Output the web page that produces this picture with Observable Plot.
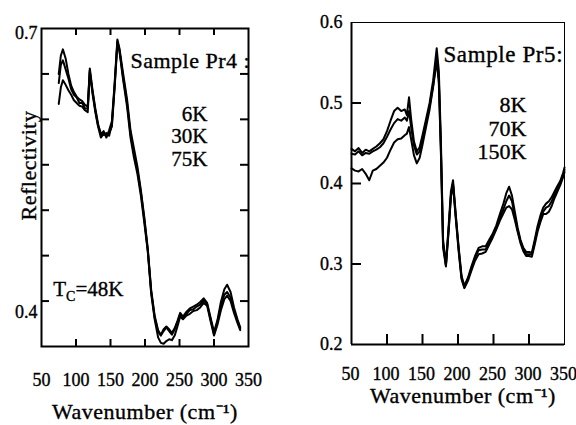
<!DOCTYPE html>
<html><head><meta charset="utf-8">
<script src="https://cdn.jsdelivr.net/npm/d3@7"></script>
<script src="https://cdn.jsdelivr.net/npm/@observablehq/plot@0.6"></script>
<style>
body{margin:0;background:#fff;}
#wrap{position:relative;width:576px;height:425px;overflow:hidden;}
#wrap svg{position:absolute;top:0;}
#wrap text{stroke:#000;stroke-width:0.35px;}
#wrap .big text{letter-spacing:0.5px;}
#wrap .big2 text{letter-spacing:0.6px;}
</style></head><body><div id="wrap"></div>
<script>
// ---------- data ----------
const xTickLabels = [50, 100, 150, 200, 250, 300, 350];
const xInnerTicks = [100, 150, 200, 250, 300];

const pr4YTickLabels = [0.7, 0.4];
const pr4YInnerTicks = [0.4, 0.45, 0.5, 0.55, 0.6, 0.65];
const pr5YTickLabels = [0.6, 0.5, 0.4, 0.3, 0.2];
const pr5YInnerTicks = [0.3, 0.4, 0.5];

const pr4Temps = ["6K", "30K", "75K"];
const pr5Temps = ["8K", "70K", "150K"];

const pr4Wavenumber = [75, 78, 81, 85, 89, 93, 97, 101, 105, 109, 113, 117, 120, 124, 128, 132, 136, 140, 144, 148, 152, 156, 160, 163, 168, 174, 179, 184, 189, 194, 199, 204, 209, 214, 219, 223, 227, 231, 235, 239, 243, 247, 251, 255, 260, 265, 270, 275, 280, 285, 290, 295, 300, 305, 310, 315, 319, 324, 329, 334, 338];
const pr4R6K = [0.650, 0.670, 0.677, 0.667, 0.650, 0.637, 0.630, 0.625, 0.622, 0.620, 0.616, 0.614, 0.656, 0.632, 0.612, 0.595, 0.583, 0.587, 0.580, 0.588, 0.598, 0.640, 0.688, 0.678, 0.652, 0.622, 0.588, 0.568, 0.548, 0.522, 0.492, 0.458, 0.412, 0.384, 0.368, 0.363, 0.369, 0.372, 0.369, 0.365, 0.370, 0.378, 0.387, 0.383, 0.388, 0.392, 0.394, 0.396, 0.399, 0.403, 0.398, 0.382, 0.366, 0.379, 0.399, 0.413, 0.418, 0.410, 0.393, 0.380, 0.371];
const pr4R30K = [0.640, 0.660, 0.665, 0.655, 0.645, 0.633, 0.627, 0.624, 0.618, 0.618, 0.612, 0.612, 0.654, 0.630, 0.610, 0.593, 0.585, 0.583, 0.585, 0.582, 0.595, 0.637, 0.686, 0.676, 0.648, 0.618, 0.584, 0.562, 0.544, 0.520, 0.490, 0.456, 0.410, 0.382, 0.366, 0.362, 0.367, 0.371, 0.367, 0.363, 0.369, 0.377, 0.386, 0.382, 0.386, 0.390, 0.391, 0.394, 0.396, 0.401, 0.397, 0.380, 0.364, 0.377, 0.395, 0.407, 0.410, 0.404, 0.390, 0.378, 0.370];
const pr4R75K = [0.617, 0.635, 0.643, 0.638, 0.632, 0.627, 0.621, 0.618, 0.615, 0.614, 0.610, 0.608, 0.652, 0.628, 0.608, 0.592, 0.580, 0.584, 0.582, 0.585, 0.592, 0.635, 0.684, 0.675, 0.645, 0.614, 0.580, 0.558, 0.540, 0.516, 0.486, 0.455, 0.408, 0.380, 0.360, 0.354, 0.353, 0.356, 0.358, 0.357, 0.362, 0.372, 0.383, 0.380, 0.384, 0.386, 0.389, 0.390, 0.393, 0.398, 0.395, 0.378, 0.362, 0.374, 0.390, 0.402, 0.406, 0.400, 0.387, 0.376, 0.368];

const pr5Wavenumber = [50, 55, 60, 65, 70, 75, 80, 85, 90, 95, 100, 105, 110, 115, 120, 125, 128, 131, 134, 138, 142, 146, 150, 155, 160, 165, 170, 173, 176, 179, 183, 187, 190, 193, 197, 201, 205, 209, 214, 219, 224, 229, 234, 239, 244, 249, 254, 259, 264, 268, 272, 276, 280, 284, 288, 292, 296, 300, 304, 308, 312, 316, 320, 324, 328, 332, 336, 340, 344, 348, 350];
const pr5R8K = [0.443, 0.440, 0.444, 0.438, 0.442, 0.440, 0.443, 0.446, 0.450, 0.455, 0.465, 0.478, 0.490, 0.494, 0.490, 0.492, 0.485, 0.507, 0.480, 0.452, 0.440, 0.445, 0.460, 0.480, 0.500, 0.528, 0.568, 0.540, 0.450, 0.330, 0.300, 0.350, 0.390, 0.404, 0.360, 0.320, 0.285, 0.273, 0.283, 0.297, 0.310, 0.320, 0.322, 0.322, 0.330, 0.338, 0.348, 0.362, 0.375, 0.388, 0.396, 0.385, 0.365, 0.345, 0.330, 0.320, 0.315, 0.315, 0.314, 0.330, 0.347, 0.360, 0.370, 0.375, 0.378, 0.383, 0.390, 0.397, 0.403, 0.413, 0.420];
const pr5R70K = [0.437, 0.436, 0.440, 0.435, 0.438, 0.437, 0.440, 0.442, 0.445, 0.450, 0.458, 0.467, 0.475, 0.480, 0.478, 0.482, 0.478, 0.490, 0.470, 0.447, 0.436, 0.440, 0.455, 0.476, 0.496, 0.522, 0.556, 0.530, 0.440, 0.325, 0.298, 0.345, 0.385, 0.400, 0.358, 0.318, 0.283, 0.271, 0.281, 0.295, 0.308, 0.317, 0.318, 0.318, 0.327, 0.336, 0.346, 0.358, 0.368, 0.378, 0.385, 0.378, 0.360, 0.342, 0.328, 0.318, 0.312, 0.312, 0.312, 0.327, 0.343, 0.355, 0.365, 0.370, 0.372, 0.378, 0.386, 0.393, 0.400, 0.410, 0.417];
const pr5R150K = [0.419, 0.416, 0.415, 0.418, 0.412, 0.404, 0.416, 0.418, 0.422, 0.426, 0.432, 0.442, 0.451, 0.455, 0.456, 0.460, 0.462, 0.470, 0.455, 0.435, 0.425, 0.432, 0.448, 0.470, 0.492, 0.520, 0.552, 0.525, 0.435, 0.320, 0.297, 0.343, 0.383, 0.398, 0.355, 0.315, 0.281, 0.270, 0.279, 0.292, 0.304, 0.312, 0.313, 0.315, 0.324, 0.333, 0.343, 0.354, 0.363, 0.370, 0.372, 0.368, 0.355, 0.340, 0.326, 0.316, 0.310, 0.310, 0.309, 0.324, 0.340, 0.352, 0.362, 0.362, 0.365, 0.372, 0.382, 0.390, 0.398, 0.408, 0.414];

// ---------- build ----------
function rows(xs, ys, name) { return xs.map((x, i) => ({x, y: ys[i], name})); }
const pr4Data = [
  ...rows(pr4Wavenumber, pr4R6K, pr4Temps[0]),
  ...rows(pr4Wavenumber, pr4R30K, pr4Temps[1]),
  ...rows(pr4Wavenumber, pr4R75K, pr4Temps[2])
];
const pr5Data = [
  ...rows(pr5Wavenumber, pr5R8K, pr5Temps[0]),
  ...rows(pr5Wavenumber, pr5R70K, pr5Temps[1]),
  ...rows(pr5Wavenumber, pr5R150K, pr5Temps[2])
];

const FONT = "'Liberation Serif', 'Times New Roman', serif";
const wrap = document.getElementById("wrap");

// Left panel: Sample Pr4
{
  const W = 290, H = 425, mL = 41, mR = 42, mT = 28, mB = 79;
  const fw = W - mL - mR, fh = H - mT - mB;
  const svg = Plot.plot({
    width: W, height: H, marginLeft: mL, marginRight: mR, marginTop: mT, marginBottom: mB,
    x: {domain: [50, 350], axis: null},
    y: {domain: [0.35, 0.7], axis: null},
    style: {fontFamily: FONT, fontSize: "18px", background: "transparent", color: "#000", overflow: "visible"},
    marks: [
      Plot.line(pr4Data, {x: "x", y: "y", z: "name", stroke: "#000", strokeWidth: 2, strokeLinejoin: "round"}),
      Plot.frame({stroke: "#000", strokeWidth: 2}),
      Plot.tickX(xInnerTicks, {x: d => d, insetTop: fh - 7, stroke: "#000", strokeWidth: 2}),
      Plot.tickX(xInnerTicks, {x: d => d, insetBottom: fh - 7, stroke: "#000", strokeWidth: 2}),
      Plot.tickY(pr4YInnerTicks, {y: d => d, insetRight: fw - 8, stroke: "#000", strokeWidth: 2}),
      Plot.tickY(pr4YInnerTicks, {y: d => d, insetLeft: fw - 8, stroke: "#000", strokeWidth: 2}),
      Plot.text(xTickLabels, {x: d => d, text: d => String(d), frameAnchor: "bottom", dy: 34, lineAnchor: "middle", textAnchor: "middle", fontSize: 18}),
      Plot.text(pr4YTickLabels.slice(0, 1), {y: d => d, text: d => d.toFixed(1), frameAnchor: "left", dx: -4, dy: 5, textAnchor: "end", lineAnchor: "middle", fontSize: 18}),
      Plot.text(pr4YTickLabels.slice(1), {y: d => d, text: d => d.toFixed(1), frameAnchor: "left", dx: -4, dy: 11, textAnchor: "end", lineAnchor: "middle", fontSize: 18}),
      Plot.text(["Wavenumber (cm\u207B\u00B9)"], {text: d => d, frameAnchor: "bottom", dy: 65, textAnchor: "middle", lineAnchor: "middle", fontSize: 22, className: "big"}),
      Plot.text(["Reflectivity"], {text: d => d, frameAnchor: "left", rotate: -90, dx: -13, dy: -22, textAnchor: "middle", lineAnchor: "middle", fontSize: 22, className: "big"}),
      Plot.text(["Sample Pr4 :"], {text: d => d, x: 179, y: 0.657, textAnchor: "start", lineAnchor: "bottom", fontSize: 22, className: "big"}),
      Plot.text(pr4Temps, {text: d => d, x: 290.5, y: (d, i) => 0.598 - i * 0.0245, textAnchor: "end", lineAnchor: "bottom", fontSize: 21}),
      Plot.text(["TC=48K"], {text: d => d, x: 67, y: 0.406, textAnchor: "start", lineAnchor: "bottom", fontSize: 21})
    ]
  });
  svg.style.left = "0px";
  d3.select(svg).selectAll("text").each(function () {
    if (this.textContent === "TC=48K") {
      const t = d3.select(this);
      t.text(null);
      t.append("tspan").text("T");
      t.append("tspan").attr("dy", 5).attr("font-size", 14).text("C");
      t.append("tspan").attr("dy", -5).text("=48K");
    }
  });
  wrap.appendChild(svg);
}

// Right panel: Sample Pr5
{
  const W = 286, H = 425, mL = 61, mR = 12, mT = 22, mB = 81;
  const fw = W - mL - mR, fh = H - mT - mB;
  const svg = Plot.plot({
    width: W, height: H, marginLeft: mL, marginRight: mR, marginTop: mT, marginBottom: mB,
    x: {domain: [50, 350], axis: null},
    y: {domain: [0.2, 0.6], axis: null},
    style: {fontFamily: FONT, fontSize: "18px", background: "transparent", color: "#000", overflow: "visible"},
    marks: [
      Plot.line(pr5Data, {x: "x", y: "y", z: "name", stroke: "#000", strokeWidth: 2, strokeLinejoin: "round"}),
      Plot.frame({stroke: "#000", strokeWidth: 1}),
      Plot.ruleX([50], {x: d => d, stroke: "#000", strokeWidth: 2}),
      Plot.ruleY([0.2], {y: d => d, stroke: "#000", strokeWidth: 2}),
      Plot.tickX(xInnerTicks, {x: d => d, insetTop: fh - 10, stroke: "#000", strokeWidth: 2}),
      Plot.tickY(pr5YInnerTicks, {y: d => d, insetRight: fw - 10, stroke: "#000", strokeWidth: 2}),
      Plot.text(xTickLabels, {x: d => d, text: d => String(d), frameAnchor: "bottom", dy: 30, dx: -1, lineAnchor: "middle", textAnchor: "middle", fontSize: 18}),
      Plot.text(pr5YTickLabels, {y: d => d, text: d => d.toFixed(1), frameAnchor: "left", dx: -9, textAnchor: "end", lineAnchor: "middle", fontSize: 18}),
      Plot.text(["Wavenumber (cm\u207B\u00B9)"], {text: d => d, frameAnchor: "bottom", dy: 51, dx: 5, textAnchor: "middle", lineAnchor: "middle", fontSize: 22, className: "big"}),
      Plot.text(["Sample Pr5:"], {text: d => d, x: 179.5, y: 0.5505, textAnchor: "start", lineAnchor: "bottom", fontSize: 23, className: "big2"}),
      Plot.text(pr5Temps, {text: d => d, x: 296.5, y: (d, i) => 0.4885 - i * 0.029, textAnchor: "end", lineAnchor: "bottom", fontSize: 22})
    ]
  });
  svg.style.left = "290px";
  wrap.appendChild(svg);
}
</script>
</body></html>
